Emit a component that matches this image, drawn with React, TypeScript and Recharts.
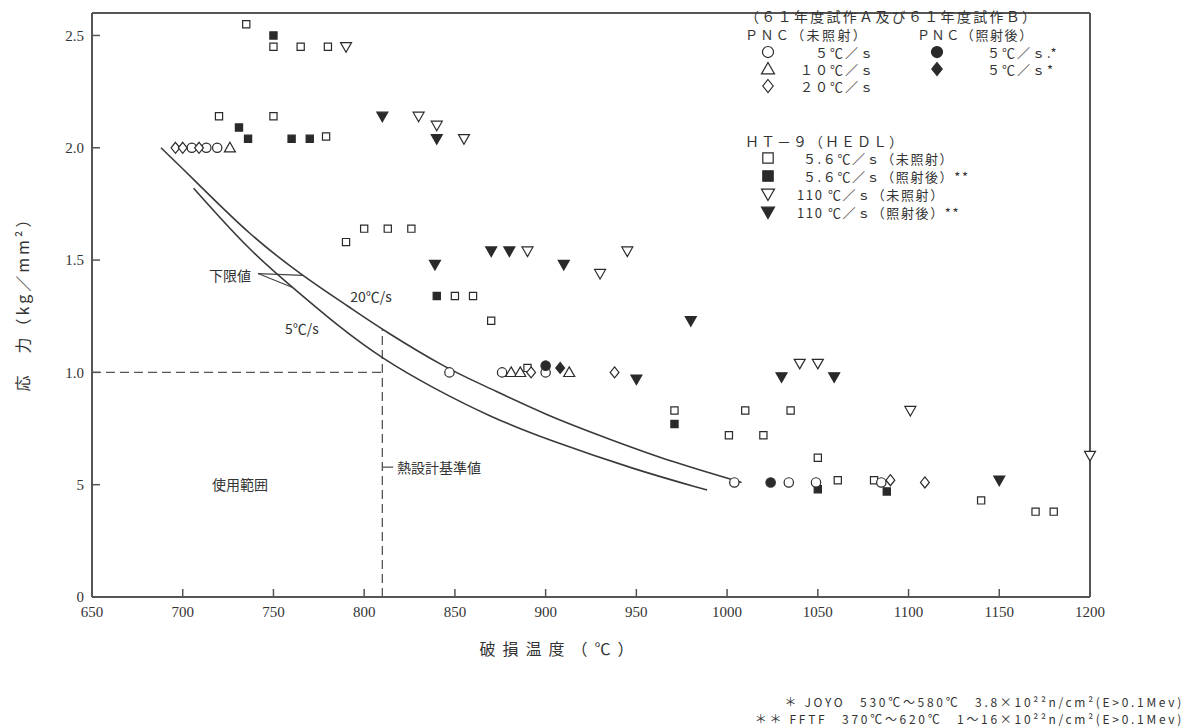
import React from 'react';
import { ComposedChart, XAxis, YAxis, Line, Scatter, ReferenceLine } from 'recharts';

type Pt = { x: number; y: number };
type Kind = 'circle' | 'triangle' | 'diamond' | 'square' | 'tridown';

const toPts = (a: number[][]): Pt[] => a.map(([x, y]) => ({ x, y }));

const xTicks = [650, 700, 750, 800, 850, 900, 950, 1000, 1050, 1100, 1150, 1200];
const yTicks = [0, 0.5, 1.0, 1.5, 2.0, 2.5];

// lower-limit curves
const curve20 = [
  [688, 2.0], [706, 1.86], [737, 1.61], [766, 1.43], [792, 1.29], [810, 1.19],
  [847, 1.01], [864, 0.95], [900, 0.81], [936, 0.7], [970, 0.6], [1008, 0.51],
];
const curve5 = [
  [706, 1.82], [737, 1.54], [761, 1.375], [785, 1.21], [810, 1.06], [838, 0.93],
  [870, 0.8], [901, 0.7], [950, 0.565], [989, 0.476],
];

// PNC unirradiated
const pnc5 = [[705, 2.0], [713, 2.0], [719, 2.0], [847, 1.0], [876, 1.0], [900, 1.0], [1004, 0.51], [1034, 0.51], [1049, 0.51], [1085, 0.51]];
const pnc10 = [[726, 2.0], [881, 1.0], [886, 1.0], [913, 1.0]];
const pnc20 = [[696, 2.0], [700, 2.0], [709, 2.0], [892, 1.0], [938, 1.0], [1090, 0.52], [1109, 0.51]];
// PNC irradiated
const pncIrrCircle = [[1024, 0.51], [900, 1.03]];
const pncIrrDiamond = [[908, 1.02]];
// HT-9 (HEDL)
const ht9SlowOpen = [
  [735, 2.55], [750, 2.45], [765, 2.45], [780, 2.45], [720, 2.14], [750, 2.14], [779, 2.05],
  [790, 1.58], [800, 1.64], [813, 1.64], [826, 1.64], [850, 1.34], [860, 1.34], [870, 1.23],
  [890, 1.02], [971, 0.83], [1001, 0.72], [1010, 0.83], [1020, 0.72], [1035, 0.83], [1050, 0.62],
  [1061, 0.52], [1081, 0.52], [1140, 0.43], [1170, 0.38], [1180, 0.38],
];
const ht9SlowIrr = [[750, 2.5], [731, 2.09], [736, 2.04], [760, 2.04], [770, 2.04], [840, 1.34], [971, 0.77], [1050, 0.48], [1088, 0.47]];
const ht9FastOpen = [[790, 2.45], [830, 2.14], [840, 2.1], [855, 2.04], [890, 1.54], [930, 1.44], [945, 1.54], [1040, 1.04], [1050, 1.04], [1101, 0.83], [1200, 0.63]];
const ht9FastIrr = [[810, 2.14], [840, 2.04], [839, 1.48], [870, 1.54], [880, 1.54], [910, 1.48], [980, 1.23], [950, 0.97], [1030, 0.98], [1059, 0.98], [1150, 0.52]];

const INK = '#2a2a2a';
const AXIS = '#555';
const JP = "'Noto Sans CJK JP', sans-serif";
const NUM = "'Liberation Serif', 'DejaVu Serif', serif";

function markPath(kind: Kind, cx: number, cy: number, r: number) {
  switch (kind) {
    case 'triangle':
      return `M${cx},${cy - r} L${cx + r},${cy + r * 0.75} L${cx - r},${cy + r * 0.75} Z`;
    case 'tridown':
      return `M${cx},${cy + r} L${cx + r},${cy - r * 0.75} L${cx - r},${cy - r * 0.75} Z`;
    case 'diamond':
      return `M${cx},${cy - r} L${cx + r * 0.8},${cy} L${cx},${cy + r} L${cx - r * 0.8},${cy} Z`;
    default:
      return `M${cx - r * 0.8},${cy - r * 0.8} h${r * 1.6} v${r * 1.6} h${-r * 1.6} Z`;
  }
}

function Mark({ kind, filled, cx, cy, r }: { kind: Kind; filled: boolean; cx: number; cy: number; r: number }) {
  const fill = filled ? INK : '#fff';
  if (kind === 'circle') {
    return <circle cx={cx} cy={cy} r={r * 0.85} fill={fill} stroke={INK} strokeWidth={1.2} />;
  }
  return <path d={markPath(kind, cx, cy, r)} fill={fill} stroke={INK} strokeWidth={1.2} />;
}

const shape = (kind: Kind, filled: boolean, r = 5) => (p: any) =>
  <Mark kind={kind} filled={filled} cx={p.cx} cy={p.cy} r={r} />;

function Icon({ kind, filled, x, y }: { kind: Kind; filled: boolean; x: number; y: number }) {
  return (
    <svg width={18} height={18} style={{ position: 'absolute', left: x - 9, top: y - 9 }}>
      <Mark kind={kind} filled={filled} cx={9} cy={9} r={6.5} />
    </svg>
  );
}

function Txt({ x, y, size = 13, align = 'left', ls = 0, font = JP, children }: any) {
  const tx = align === 'center' ? '-50%' : align === 'right' ? '-100%' : '0';
  return (
    <div style={{
      position: 'absolute', left: x, top: y, transform: `translate(${tx}, -50%)`,
      fontFamily: font, fontSize: size, letterSpacing: ls, color: '#333',
      whiteSpace: 'nowrap', lineHeight: 1,
    }}>{children}</div>
  );
}

const yFmt = (v: number) => (v === 0 ? '0' : v === 0.5 ? '5' : v.toFixed(1));
const dash = '9 5';

export default function App() {
  return (
    <div style={{ position: 'absolute', left: 0, top: 0, width: 1195, height: 728, background: '#fff' }}>
      <ComposedChart width={1195} height={728} margin={{ top: 13, right: 95, bottom: 101, left: 32 }}>
        <XAxis
          dataKey="x" type="number" domain={[650, 1200]} ticks={xTicks} interval={0}
          height={30} tickSize={-8} tickMargin={17}
          axisLine={{ stroke: AXIS, strokeWidth: 2 }} tickLine={{ stroke: AXIS, strokeWidth: 1.5 }}
          tick={{ fill: '#333', fontSize: 15, fontFamily: NUM }}
        />
        <YAxis
          dataKey="y" type="number" domain={[0, 2.6]} ticks={yTicks} interval={0}
          width={60} tickSize={-8} tickMargin={16} tickFormatter={yFmt}
          axisLine={{ stroke: AXIS, strokeWidth: 2 }} tickLine={{ stroke: AXIS, strokeWidth: 1.5 }}
          tick={{ fill: '#333', fontSize: 15, fontFamily: NUM }}
        />
        <YAxis
          yAxisId="r" orientation="right" type="number" domain={[0, 2.6]} ticks={yTicks} interval={0}
          width={10} tickSize={-6} tickFormatter={() => ''}
          axisLine={{ stroke: AXIS, strokeWidth: 2 }} tickLine={{ stroke: '#999', strokeWidth: 1 }}
        />
        <ReferenceLine y={2.6} stroke={AXIS} strokeWidth={2} />

        <ReferenceLine segment={[{ x: 650, y: 1.0 }, { x: 810, y: 1.0 }]} stroke="#555" strokeWidth={1.3} strokeDasharray={dash} />
        <ReferenceLine segment={[{ x: 810, y: 0 }, { x: 810, y: 1.19 }]} stroke="#555" strokeWidth={1.3} strokeDasharray={dash} />
        <ReferenceLine segment={[{ x: 810, y: 0.578 }, { x: 816, y: 0.578 }]} stroke="#555" strokeWidth={1.3} />
        <ReferenceLine segment={[{ x: 741.5, y: 1.44 }, { x: 766.3, y: 1.432 }]} stroke="#444" strokeWidth={1.2} />
        <ReferenceLine segment={[{ x: 741.5, y: 1.44 }, { x: 760.2, y: 1.379 }]} stroke="#444" strokeWidth={1.2} />

        <Line data={toPts(curve20)} dataKey="y" type="basis" dot={false} stroke="#3a3a3a" strokeWidth={1.6} isAnimationActive={false} />
        <Line data={toPts(curve5)} dataKey="y" type="basis" dot={false} stroke="#3a3a3a" strokeWidth={1.6} isAnimationActive={false} />

        <Scatter data={toPts(ht9SlowOpen)} shape={shape('square', false, 4.5)} isAnimationActive={false} />
        <Scatter data={toPts(ht9SlowIrr)} shape={shape('square', true, 4.5)} isAnimationActive={false} />
        <Scatter data={toPts(ht9FastOpen)} shape={shape('tridown', false, 5.5)} isAnimationActive={false} />
        <Scatter data={toPts(ht9FastIrr)} shape={shape('tridown', true, 5.5)} isAnimationActive={false} />
        <Scatter data={toPts(pnc5)} shape={shape('circle', false, 5.5)} isAnimationActive={false} />
        <Scatter data={toPts(pnc10)} shape={shape('triangle', false, 5.5)} isAnimationActive={false} />
        <Scatter data={toPts(pnc20)} shape={shape('diamond', false, 5.5)} isAnimationActive={false} />
        <Scatter data={toPts(pncIrrCircle)} shape={shape('circle', true, 5.5)} isAnimationActive={false} />
        <Scatter data={toPts(pncIrrDiamond)} shape={shape('diamond', true, 5.5)} isAnimationActive={false} />
      </ComposedChart>

      {/* axis titles */}
      <div style={{
        position: 'absolute', left: 22, top: 300, transform: 'translate(-50%, -50%) rotate(-90deg)',
        fontFamily: JP, fontSize: 16, color: '#333', whiteSpace: 'nowrap', letterSpacing: 3, lineHeight: 1,
      }}>応　力（kg／mm²）</div>
      <Txt x={560} y={648} size={16} align="center" ls={7}>破損温度（℃）</Txt>

      {/* annotations */}
      <Txt x={230} y={275} size={14} align="center">下限値</Txt>
      <Txt x={371} y={296} size={14} align="center">20℃/s</Txt>
      <Txt x={302} y={328} size={14} align="center">5℃/s</Txt>
      <Txt x={240} y={484} size={14} align="center">使用範囲</Txt>
      <Txt x={397} y={467} size={14}>熱設計基準値</Txt>

      {/* legend */}
      <Txt x={745} y={16} size={14} ls={2.3}>（６１年度試作Ａ及び６１年度試作Ｂ）</Txt>
      <Txt x={745} y={34} size={13} ls={2.4}>ＰＮＣ（未照射）</Txt>
      <Txt x={917} y={34} size={13} ls={1.6}>ＰＮＣ（照射後）</Txt>
      <Icon kind="circle" filled={false} x={768} y={52} />
      <Txt x={875} y={52} align="right" ls={2}>５℃／ｓ</Txt>
      <Icon kind="triangle" filled={false} x={768} y={69} />
      <Txt x={875} y={69} align="right" ls={2}>１０℃／ｓ</Txt>
      <Icon kind="diamond" filled={false} x={768} y={86} />
      <Txt x={875} y={86} align="right" ls={2}>２０℃／ｓ</Txt>
      <Icon kind="circle" filled={true} x={937} y={52} />
      <Txt x={987} y={52} ls={2}>５℃／ｓ.*</Txt>
      <Icon kind="diamond" filled={true} x={937} y={69} />
      <Txt x={987} y={69} ls={2}>５℃／ｓ*</Txt>

      <Txt x={745} y={141} size={14} ls={2}>ＨＴ－９（ＨＥＤＬ）</Txt>
      <Icon kind="square" filled={false} x={768} y={158} />
      <Txt x={803} y={158} ls={1.6}>５.６℃／ｓ（未照射）</Txt>
      <Icon kind="square" filled={true} x={768} y={176} />
      <Txt x={803} y={176} ls={1.6}>５.６℃／ｓ（照射後）**</Txt>
      <Icon kind="tridown" filled={false} x={768} y={194} />
      <Txt x={797} y={194} ls={1.6}>110 ℃／ｓ（未照射）</Txt>
      <Icon kind="tridown" filled={true} x={768} y={212} />
      <Txt x={797} y={212} ls={1.6}>110 ℃／ｓ（照射後）**</Txt>

      {/* footnotes */}
      <Txt x={1184} y={702} size={12} ls={2.7} align="right">＊ JOYO　530℃～580℃　3.8×10²²n/cm²(E&gt;0.1Mev)</Txt>
      <Txt x={1184} y={719} size={12} ls={2.7} align="right">＊＊ FFTF　370℃～620℃　1～16×10²²n/cm²(E&gt;0.1Mev)</Txt>
    </div>
  );
}
